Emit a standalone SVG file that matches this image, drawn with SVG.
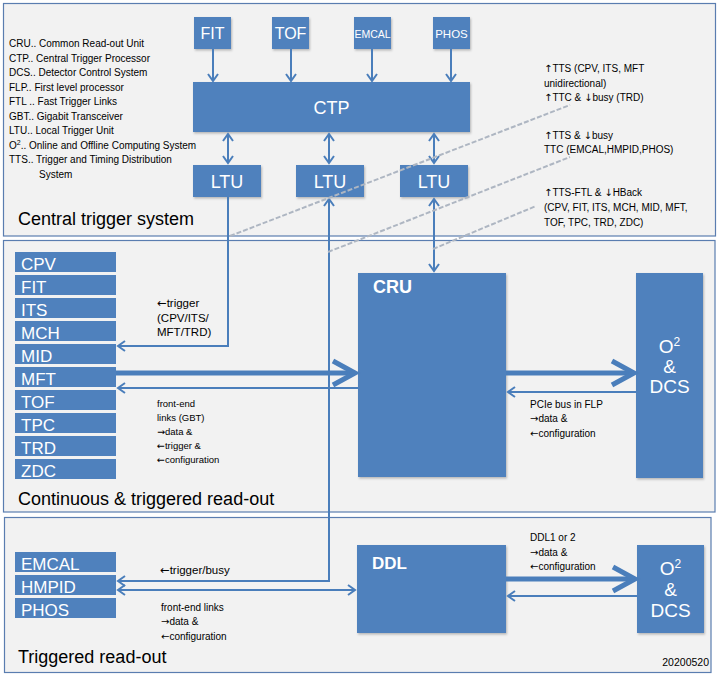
<svg xmlns="http://www.w3.org/2000/svg" width="722" height="679" viewBox="0 0 722 679">
<style>
.panel{fill:#f2f2f2;stroke:#5a7db0;stroke-width:1.2}
.box{fill:#4f81bd}
.w{fill:#fff;font-family:"Liberation Sans",Arial,sans-serif}
.t{fill:#000;font-family:"Liberation Sans",Arial,sans-serif}
.ln{stroke:#4a7ebb;stroke-width:2;fill:none}
.thick{stroke:#4a7ebb;stroke-width:5;fill:none}
.dash{stroke:#aeb6c2;stroke-width:2;stroke-dasharray:5 2;fill:none}
.det{font-size:17px}
.s10{font-size:10px}
.ar{font-family:"DejaVu Sans",sans-serif}
</style>
<defs>
<filter id="sh" x="-10%" y="-10%" width="130%" height="130%">
<feDropShadow dx="1" dy="1.5" stdDeviation="1" flood-color="#000" flood-opacity="0.25"/>
</filter>
<marker id="ah" markerUnits="userSpaceOnUse" viewBox="-3 -3 13 16" markerWidth="13" markerHeight="16" refX="7" refY="5" orient="auto-start-reverse">
<path d="M0,0 L7,5 L0,10" fill="none" stroke="#4a7ebb" stroke-width="2"/>
</marker>
<marker id="ahb" markerUnits="userSpaceOnUse" viewBox="-4 -4 32 32" markerWidth="32" markerHeight="32" refX="22" refY="12" orient="auto">
<path d="M0,0 L22,12 L0,24" fill="none" stroke="#4a7ebb" stroke-width="5"/>
</marker>
</defs>

<g id="panels">
<rect class="panel" x="3.5" y="3.5" width="712" height="232.5"/>
<rect class="panel" x="3.5" y="240.5" width="711.5" height="271.5"/>
<rect class="panel" x="4.5" y="517.5" width="706.5" height="155"/>
</g>

<g id="legend" class="t s10">
<text x="9" y="47">CRU.. Common Read-out Unit</text>
<text x="9" y="61.5">CTP.. Central Trigger Processor</text>
<text x="9" y="76">DCS.. Detector Control System</text>
<text x="9" y="90.5">FLP.. First level processor</text>
<text x="9" y="105">FTL .. Fast Trigger Links</text>
<text x="9" y="119.5">GBT.. Gigabit Transceiver</text>
<text x="9" y="134">LTU.. Local Trigger Unit</text>
<text x="9" y="148.5">O<tspan font-size="7" dy="-4">2</tspan><tspan dy="4">.. Online and Offline Computing System</tspan></text>
<text x="9" y="163">TTS.. Trigger and Timing Distribution</text>
<text x="39" y="177.5">System</text>
</g>

<g id="panel-titles" class="t" font-size="18">
<text x="18" y="225">Central trigger system</text>
<text x="18" y="505">Continuous &amp; triggered read-out</text>
<text x="18" y="663">Triggered read-out</text>
</g>

<g id="node-FIT-top"><rect class="box" filter="url(#sh)" x="194" y="17" width="37" height="32"/><text class="w" x="212.5" y="39" font-size="16" text-anchor="middle">FIT</text></g>
<g id="node-TOF-top"><rect class="box" filter="url(#sh)" x="272" y="17" width="37" height="32"/><text class="w" x="290.5" y="39" font-size="16" text-anchor="middle">TOF</text></g>
<g id="node-EMCAL-top"><rect class="box" filter="url(#sh)" x="354" y="17" width="37" height="32"/><text class="w" x="372.5" y="38" font-size="10.5" text-anchor="middle">EMCAL</text></g>
<g id="node-PHOS-top"><rect class="box" filter="url(#sh)" x="433" y="17" width="37" height="32"/><text class="w" x="451.5" y="38" font-size="11.5" text-anchor="middle">PHOS</text></g>

<g id="node-CTP"><rect class="box" filter="url(#sh)" x="193" y="82" width="277" height="50"/><text class="w" x="331.5" y="113.5" font-size="18" text-anchor="middle">CTP</text></g>

<g id="node-LTU1"><rect class="box" filter="url(#sh)" x="193" y="165" width="68" height="32"/><text class="w" x="227" y="187.5" font-size="18" text-anchor="middle">LTU</text></g>
<g id="node-LTU2"><rect class="box" filter="url(#sh)" x="296" y="165" width="68" height="32"/><text class="w" x="330" y="187.5" font-size="18" text-anchor="middle">LTU</text></g>
<g id="node-LTU3"><rect class="box" filter="url(#sh)" x="400" y="165" width="68" height="32"/><text class="w" x="434" y="187.5" font-size="18" text-anchor="middle">LTU</text></g>

<g id="detectors-continuous" class="w det">
<g id="node-CPV"><rect class="box" x="15" y="252" width="101" height="20"/><text x="21" y="270">CPV</text></g>
<g id="node-FIT"><rect class="box" x="15" y="275" width="101" height="20"/><text x="21" y="293">FIT</text></g>
<g id="node-ITS"><rect class="box" x="15" y="298" width="101" height="20"/><text x="21" y="316">ITS</text></g>
<g id="node-MCH"><rect class="box" x="15" y="321" width="101" height="20"/><text x="21" y="339">MCH</text></g>
<g id="node-MID"><rect class="box" x="15" y="344" width="101" height="20"/><text x="21" y="362">MID</text></g>
<g id="node-MFT"><rect class="box" x="15" y="367" width="101" height="20"/><text x="21" y="385">MFT</text></g>
<g id="node-TOF"><rect class="box" x="15" y="390" width="101" height="20"/><text x="21" y="408">TOF</text></g>
<g id="node-TPC"><rect class="box" x="15" y="413" width="101" height="20"/><text x="21" y="431">TPC</text></g>
<g id="node-TRD"><rect class="box" x="15" y="436" width="101" height="20"/><text x="21" y="454">TRD</text></g>
<g id="node-ZDC"><rect class="box" x="15" y="459" width="101" height="20"/><text x="21" y="477">ZDC</text></g>
</g>

<g id="node-CRU"><rect class="box" filter="url(#sh)" x="358" y="273" width="148" height="204"/><text class="w" x="373" y="293" font-size="18" font-weight="bold">CRU</text></g>
<g id="node-O2DCS-1"><rect class="box" filter="url(#sh)" x="636" y="273" width="67" height="205"/>
<g class="w" font-size="19" text-anchor="middle"><text x="669.5" y="353">O<tspan font-size="12" dy="-7">2</tspan></text><text x="669.5" y="373">&amp;</text><text x="669.5" y="393">DCS</text></g></g>

<g id="detectors-triggered" class="w det">
<g id="node-EMCAL"><rect class="box" x="15" y="552" width="101" height="20"/><text x="21" y="570">EMCAL</text></g>
<g id="node-HMPID"><rect class="box" x="15" y="575" width="101" height="20"/><text x="21" y="593">HMPID</text></g>
<g id="node-PHOS"><rect class="box" x="15" y="598" width="101" height="20"/><text x="21" y="616">PHOS</text></g>
</g>

<g id="node-DDL"><rect class="box" filter="url(#sh)" x="357" y="545" width="149" height="88"/><text class="w" x="372" y="569" font-size="17" font-weight="bold">DDL</text></g>
<g id="node-O2DCS-2"><rect class="box" filter="url(#sh)" x="637" y="545" width="67" height="88"/>
<g class="w" font-size="19" text-anchor="middle"><text x="670.5" y="575">O<tspan font-size="12" dy="-7">2</tspan></text><text x="670.5" y="596">&amp;</text><text x="670.5" y="617">DCS</text></g></g>

<g id="connectors">
<line class="ln" x1="213" y1="49" x2="213" y2="81" marker-end="url(#ah)"/>
<line class="ln" x1="291" y1="49" x2="291" y2="81" marker-end="url(#ah)"/>
<line class="ln" x1="372" y1="49" x2="372" y2="81" marker-end="url(#ah)"/>
<line class="ln" x1="451" y1="49" x2="451" y2="81" marker-end="url(#ah)"/>
<line class="ln" x1="228" y1="134" x2="228" y2="163" marker-start="url(#ah)" marker-end="url(#ah)"/>
<line class="ln" x1="329" y1="134" x2="329" y2="163" marker-start="url(#ah)" marker-end="url(#ah)"/>
<line class="ln" x1="434" y1="134" x2="434" y2="163" marker-start="url(#ah)" marker-end="url(#ah)"/>
<path class="ln" d="M228,197 V346 H118" marker-end="url(#ah)"/>
<path class="ln" d="M118,581 H329 V199" marker-start="url(#ah)" marker-end="url(#ah)"/>
<line class="ln" x1="434" y1="199" x2="434" y2="271" marker-start="url(#ah)" marker-end="url(#ah)"/>
<line class="thick" x1="116" y1="373" x2="355" y2="373" marker-end="url(#ahb)"/>
<line class="ln" x1="358" y1="388" x2="118" y2="388" marker-end="url(#ah)"/>
<line class="thick" x1="506" y1="373" x2="634" y2="373" marker-end="url(#ahb)"/>
<line class="ln" x1="636" y1="392" x2="508" y2="392" marker-end="url(#ah)"/>
<line class="ln" x1="118" y1="590" x2="355" y2="590" marker-start="url(#ah)" marker-end="url(#ah)"/>
<line class="thick" x1="506" y1="579" x2="635" y2="579" marker-end="url(#ahb)"/>
<line class="ln" x1="637" y1="596" x2="508" y2="596" marker-end="url(#ah)"/>
</g>

<g id="callout-lines">
<line class="dash" x1="230" y1="236" x2="570" y2="105"/>
<line class="dash" x1="328" y1="252" x2="570" y2="157"/>
<line class="dash" x1="433" y1="249" x2="536" y2="206"/>
</g>

<g id="annotations" class="t s10">
<text x="544" y="71.5"><tspan class="ar">↑</tspan>TTS (CPV, ITS, MFT</text>
<text x="544" y="86.5">unidirectional)</text>
<text x="544" y="100.5"><tspan class="ar">↑</tspan>TTC &amp; <tspan class="ar">↓</tspan>busy (TRD)</text>
<text x="544" y="138.5"><tspan class="ar">↑</tspan>TTS &amp; <tspan class="ar">↓</tspan>busy</text>
<text x="544" y="152.5">TTC (EMCAL,HMPID,PHOS)</text>
<text x="544" y="195.5"><tspan class="ar">↑</tspan>TTS-FTL &amp; <tspan class="ar">↓</tspan>HBack</text>
<text x="544" y="210.5">(CPV, FIT, ITS, MCH, MID, MFT,</text>
<text x="544" y="225.5">TOF, TPC, TRD, ZDC)</text>
<g font-size="11.5">
<text x="157" y="307"><tspan class="ar">←</tspan>trigger</text>
<text x="157" y="321.5">(CPV/ITS/</text>
<text x="157" y="336">MFT/TRD)</text>
</g>
<g font-size="9.5">
<text x="157" y="406.5">front-end</text>
<text x="157" y="420.5">links (GBT)</text>
<text x="157" y="434.5"><tspan class="ar">→</tspan>data &amp;</text>
<text x="157" y="448.5"><tspan class="ar">←</tspan>trigger &amp;</text>
<text x="157" y="463"><tspan class="ar">←</tspan>configuration</text>
</g>
<text x="530" y="408">PCIe bus in FLP</text>
<text x="530" y="422"><tspan class="ar">→</tspan>data &amp;</text>
<text x="530" y="437"><tspan class="ar">←</tspan>configuration</text>
<text x="160" y="574" font-size="11.5"><tspan class="ar">←</tspan>trigger/busy</text>
<text x="161" y="610.5">front-end links</text>
<text x="161" y="624.5"><tspan class="ar">→</tspan>data &amp;</text>
<text x="161" y="640"><tspan class="ar">←</tspan>configuration</text>
<text x="530" y="540.5">DDL1 or 2</text>
<text x="530" y="555.5"><tspan class="ar">→</tspan>data &amp;</text>
<text x="530" y="569.5"><tspan class="ar">←</tspan>configuration</text>
<text x="709" y="666" font-size="10.5" text-anchor="end">20200520</text>
</g>
</svg>
